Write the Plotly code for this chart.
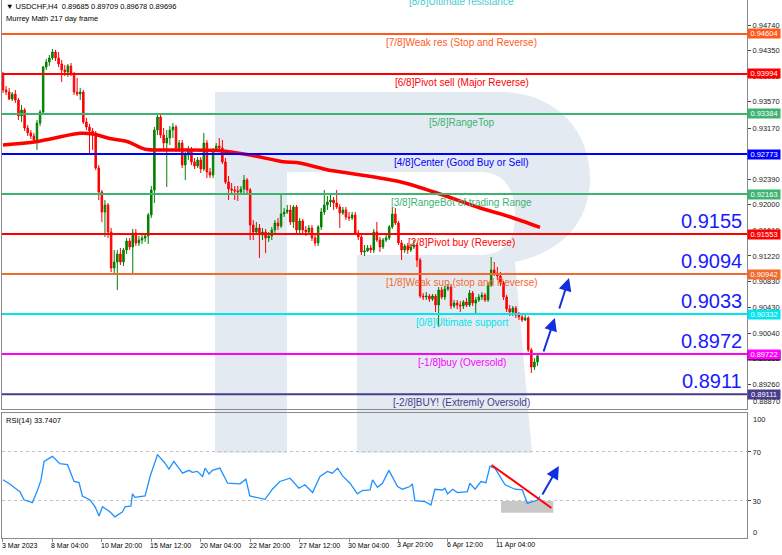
import plotly.graph_objects as go

# ---------------- DATA ----------------
tick_idx = [0, 16, 32, 48, 64, 80, 96, 112, 128, 144, 160]
tick_text = ["3 Mar 2023", "8 Mar 04:00", "10 Mar 20:00", "15 Mar 12:00", "20 Mar 04:00",
             "22 Mar 20:00", "27 Mar 12:00", "30 Mar 04:00", "3 Apr 20:00", "6 Apr 12:00", "11 Apr 04:00"]

opens = [.93978,.93750,.93719,.93612,.93689,.93597,.93353,.93445,.93170,.93094,
         .93048,.92987,.93246,.93414,.94100,.94177,.94238,.94329,.94238,.94146,
         .94055,.94024,.94116,.93994,.93719,.93689,.93719,.93261,.93185,.93124,
         .93094,.92560,.92194,.91889,.91996,.91584,.91035,.91127,.91249,.91127,
         .91310,.91447,.91356,.91569,.91417,.91462,.91493,.91523,.91844,.92225,
         .93139,.93338,.93063,.92941,.93017,.93139,.93185,.92865,.92941,.92606,
         .92758,.92835,.92652,.92591,.92682,.92545,.92941,.92499,.92453,.92835,
         .92895,.92865,.92652,.92347,.92240,.92225,.92210,.92194,.92240,.92377,
         .92225,.91691,.91584,.91645,.91539,.91584,.91493,.91523,.91615,.91722,
         .91676,.91859,.91889,.91920,.91737,.91966,.91615,.91752,.91615,.91584,
         .91645,.91493,.91417,.91661,.91889,.91996,.92042,.92072,.92027,.91966,
         .91874,.91920,.91813,.91798,.91844,.91569,.91508,.91279,.91295,.91340,
         .91310,.91584,.91462,.91356,.91462,.91493,.91661,.91859,.91722,.91417,
         .91310,.91371,.91310,.91356,.91386,.91157,.90608,.90593,.90608,.90562,
         .90608,.90471,.90700,.90593,.90715,.90745,.90456,.90501,.90471,.90456,
         .90517,.90471,.90654,.90501,.90547,.90593,.90624,.90547,.90776,.91005,
         .90959,.90913,.90807,.90593,.90410,.90364,.90425,.90318,.90288,.90242,
         .90273,.89785,.89525,.89602]
closes = [.93750,.93719,.93612,.93689,.93597,.93353,.93445,.93170,.93094,.93048,
          .92987,.93246,.93414,.94100,.94177,.94238,.94329,.94238,.94146,.94055,
          .94024,.94116,.93994,.93719,.93689,.93719,.93261,.93185,.93124,.93094,
          .92560,.92194,.91889,.91996,.91584,.91035,.91127,.91249,.91127,.91310,
          .91447,.91356,.91569,.91417,.91462,.91493,.91523,.91844,.92225,.93139,
          .93338,.93063,.92941,.93017,.93139,.93185,.92865,.92941,.92606,.92758,
          .92835,.92652,.92591,.92682,.92545,.92941,.92499,.92453,.92835,.92895,
          .92865,.92652,.92347,.92240,.92225,.92210,.92194,.92240,.92377,.92225,
          .91691,.91584,.91645,.91539,.91584,.91493,.91523,.91615,.91722,.91676,
          .91859,.91889,.91920,.91737,.91966,.91615,.91752,.91615,.91584,.91645,
          .91493,.91417,.91661,.91889,.91996,.92042,.92072,.92027,.91966,.91874,
          .91920,.91813,.91798,.91844,.91569,.91508,.91279,.91295,.91340,.91310,
          .91584,.91462,.91356,.91462,.91493,.91661,.91859,.91722,.91417,.91310,
          .91371,.91310,.91356,.91386,.91157,.90608,.90593,.90608,.90562,.90608,
          .90471,.90700,.90593,.90715,.90745,.90456,.90501,.90471,.90456,.90517,
          .90471,.90654,.90501,.90547,.90593,.90624,.90547,.90776,.91005,.90959,
          .90913,.90807,.90593,.90410,.90364,.90425,.90318,.90288,.90242,.90273,
          .89785,.89525,.89602,.89696]
highs = [.94024,.93811,.93780,.93719,.93750,.93628,.93521,.93475,.93216,.93139,
         .93094,.93292,.93445,.94116,.94222,.94283,.94375,.94360,.94329,.94207,
         .94131,.94146,.94161,.94024,.93933,.93780,.93750,.93323,.93231,.93170,
         .93124,.92606,.92225,.92072,.92027,.91645,.91310,.91310,.91340,.91340,
         .91493,.91493,.91630,.91630,.91523,.91539,.91569,.91874,.92286,.93185,
         .93384,.93399,.93170,.93139,.93200,.93246,.93216,.92987,.92987,.92804,
         .92895,.92880,.92713,.92728,.92728,.93094,.92987,.92560,.92865,.92941,
         .93017,.92987,.92713,.92438,.92332,.92286,.92286,.92286,.92453,.92408,
         .92255,.91767,.91737,.91706,.91645,.91630,.91584,.91661,.91767,.91798,
         .92179,.91950,.91996,.91996,.91996,.91996,.91798,.91783,.91676,.91691,
         .91691,.91539,.91691,.91950,.92225,.92133,.92149,.92118,.92225,.92012,
         .91966,.91966,.91889,.91889,.91889,.91615,.91554,.91386,.91386,.91386,
         .91630,.91737,.91508,.91493,.91539,.91691,.91950,.91950,.91752,.91462,
         .91401,.91417,.91401,.91462,.91417,.91188,.90654,.90669,.90639,.90639,
         .90639,.90745,.90745,.90761,.90791,.90791,.90547,.90547,.90532,.90547,
         .90578,.90700,.90685,.90593,.90639,.90669,.90654,.90822,.91203,.91127,
         .91051,.90974,.90837,.90624,.90471,.90456,.90456,.90364,.90334,.90318,
         .90303,.89815,.89662,.89709]
lows = [.93704,.93673,.93597,.93582,.93551,.93292,.93261,.93124,.93048,.93002,
        .92941,.92835,.93200,.93384,.94055,.94116,.94207,.94192,.94100,.93872,
        .93963,.93948,.93963,.93673,.93658,.93597,.93231,.93139,.92789,.92835,
        .92530,.92072,.91737,.91508,.91493,.90974,.90944,.90700,.91081,.91066,
        .91249,.91310,.90929,.91371,.91371,.91401,.91432,.91401,.91798,.92027,
        .93063,.93017,.92835,.92271,.92911,.93017,.92804,.92804,.92560,.92377,
        .92682,.92606,.92545,.92560,.92484,.92514,.92408,.92408,.92408,.92804,
        .92835,.92621,.92316,.92072,.92149,.92072,.92057,.92164,.92179,.92149,
        .91462,.91462,.91539,.91188,.91462,.91264,.91432,.91462,.91569,.91615,
        .91645,.91813,.91859,.91691,.91645,.91569,.91569,.91569,.91523,.91539,
        .91447,.91371,.91371,.91615,.91844,.91920,.91966,.91920,.91935,.91645,
        .91844,.91767,.91752,.91767,.91539,.91462,.91234,.91218,.91279,.91264,
        .91264,.91432,.91279,.91325,.91432,.91462,.91630,.91691,.91386,.91157,
        .91264,.91249,.91279,.91325,.91051,.90578,.90547,.90547,.90517,.90532,
        .90364,.90135,.90562,.90547,.90685,.90410,.90425,.90410,.90364,.90410,
        .90440,.90440,.90456,.90349,.90517,.90547,.90517,.90517,.90745,.90913,
        .90852,.90761,.90547,.90364,.90303,.90303,.90273,.90242,.90212,.90227,
        .89754,.89434,.89480,.89541]

ma_idx = [0, 10.7, 24.9, 29.1, 34.6, 40.4, 46, 55.7, 70.2, 80, 90.6, 96, 105.2, 109, 128.5, 141.4, 154.4, 164, 173.8]
ma_val = [.92911, .92961, .93089, .93079, .93010, .92961, .92845, .92835, .92824, .92758, .92656, .92636,
          .92530, .92504, .92351, .92164, .91950, .91817, .91656]

rsi_idx = [0, 2.3, 4.7, 5.5, 6.8, 9.5, 11.2, 12.3, 13.3, 16, 18.4, 20.9, 23, 24.6, 25.7, 28.2, 29.8, 31.1,
           32.2, 34.6, 36.2, 38.7, 39.5, 41.4, 41.9, 42.7, 46, 47.6, 50, 52.4, 53.7, 55.3, 58.1, 60.2, 61.3,
           62.9, 64.6, 65.4, 66.7, 67.8, 70.2, 72.7, 76.7, 78.6, 79.9, 82.4, 84.8, 87.2, 89.6, 92.9, 94.5,
           95.8, 97.7, 100.2, 102.6, 105, 106.6, 108.3, 109.9, 112.3, 114.7, 116.3, 118.8, 119.6, 121.2,
           122.8, 124.9, 127.7, 129.3, 131.7, 132.5, 133.3, 136.6, 138.5, 139.8, 142.2, 143, 143.9, 145.5,
           147.1, 150.3, 151.1, 152.8, 154.7, 156.3, 157.6, 159.2, 162.5, 165.7, 168.1, 169.7, 171.4, 173, 173.8]
rsi_val = [47.3, 43.7, 39, 37.6, 31, 28.6, 39, 47, 62.3, 66.4, 60.4, 59.6, 45.9, 45, 34.1, 30.8, 25.3, 17.7,
           25.3, 21.2, 17.1, 21.2, 25.3, 25.9, 35.8, 33, 34.1, 50, 67.8, 61, 56, 62.3, 52.7, 55, 53.4,
           54.2, 50, 56.8, 52, 55, 56.8, 44.5, 44, 47.8, 34.1, 33, 31.4, 39.6, 45.9, 48.6, 44.5,
           40.4, 43.2, 36.9, 50, 54.1, 52.7, 56.8, 50.5, 44.5, 35.8, 38.5, 39, 47.3, 41.2,
           44.5, 55, 41.8, 39.6, 41.8, 44, 30.3, 29.5, 26.7, 39.6, 39, 40.4, 35.8, 39.6,
           36.9, 37.7, 44.5, 39.6, 45.9, 45, 58.2, 56.8, 43.2, 39.6, 39, 28.1, 29.5, 30.8, 33.74]

lvl_vals = [0.95214, 0.94604, 0.93994, 0.93384, 0.92773, 0.92163, 0.91553, 0.90942, 0.90332, 0.89722, 0.89111]
lvl_names = ["[8/8]Ultimate resistance", "[7/8]Weak res (Stop and Reverse)", "[6/8]Pivot sell (Major Reverse)",
             "[5/8]RangeTop", "[4/8]Center (Good Buy or Sell)", "[3/8]RangeBot of trading Range",
             "[2/8]Pivot buy (Reverse)", "[1/8]Weak sup (stop and Reverse)", "[0/8]Ultimate support",
             "[-1/8]buy (Oversold)", "[-2/8]BUY! (Extremly Oversold)"]
lvl_colors = ["#46c9d2", "#ff5a1e", "#ff0000", "#3cb371", "#0000ff", "#3cb371", "#ff0000", "#f26a2e",
              "#00e5ee", "#ff00ff", "#483d8b"]

big_labels = ["0.9155", "0.9094", "0.9033", "0.8972", "0.8911"]
big_levels = [0.91553, 0.90942, 0.90332, 0.89722, 0.89111]

price_ticks = [0.94740, 0.94350, 0.93960, 0.93570, 0.93170, 0.92780, 0.92390, 0.92000, 0.91610,
               0.91220, 0.90830, 0.90430, 0.90040, 0.89650, 0.89260]

last_price = 0.89696
header = "\u25BC USDCHF,H4  0.89685 0.89709 0.89678 0.89696"
rsi_label = "RSI(14) 33.7407"

# markup drawn on the chart (index, value)
rsi_trend = [(158.1, 59.4), (177.5, 24.3)]
rsi_box = [(161.2, 20.4), (178.1, 30.0)]
rsi_arrow = [(174.3, 34.0), (179.9, 58.6)]
price_arrows = [[(174.8, 0.89739), (178.6, 0.90273)], [(179.9, 0.90395), (183.2, 0.90883)]]

# ---------------- GEOMETRY HELPERS ----------------
PL, PR, PT, PB = 2, 747, 0, 538          # plot area in pixels
MAIN_BOTTOM, RSI_TOP = 409, 413


def X(p):
    return (p - PL) / float(PR - PL)


def Y(p):
    return (PB - p) / float(PB - PT)


XR = [-0.32, 240.8]
YR = [0.88885, 0.95122]
RR = [-0.2, 101.8]

fig = go.Figure()

fig.add_trace(go.Candlestick(
    x=list(range(len(closes))), open=opens, high=highs, low=lows, close=closes,
    increasing=dict(line=dict(color="#008000", width=1), fillcolor="#008000"),
    decreasing=dict(line=dict(color="#ff0000", width=1), fillcolor="#ff0000"),
    whiskerwidth=0, xaxis="x", yaxis="y", showlegend=False, hoverinfo="skip"))

fig.add_trace(go.Scatter(x=ma_idx, y=ma_val, mode="lines",
                         line=dict(color="#ff0000", width=3.5, shape="spline", smoothing=0.8),
                         xaxis="x", yaxis="y", showlegend=False, hoverinfo="skip"))

fig.add_trace(go.Scatter(x=rsi_idx, y=rsi_val, mode="lines",
                         line=dict(color="#1e90ff", width=1.3),
                         xaxis="x2", yaxis="y2", showlegend=False, hoverinfo="skip"))

shapes = []


def path(pts):
    s = ""
    for cmd, ps in pts:
        s += cmd
        s += " ".join("%.5f,%.5f" % (X(a), Y(b)) for a, b in ps)
        s += " "
    return s.strip()


# watermark "R"
R = [("M", [(215, 92)]), ("L", [(500, 92)]),
     ("C", [(555, 92), (590, 130), (590, 178)]),
     ("C", [(590, 222), (562, 252), (515, 262)]),
     ("L", [(532, 453)]), ("L", [(357, 453)]), ("L", [(357, 255)]), ("L", [(480, 255)]),
     ("C", [(505, 255), (515, 240), (515, 215)]),
     ("C", [(515, 190), (505, 172), (480, 172)]),
     ("L", [(287, 172)]), ("L", [(287, 453)]), ("L", [(215, 453)]), ("Z", [])]
shapes.append(dict(type="path", xref="paper", yref="paper", path=path(R),
                   fillcolor="#e4eaf2", line=dict(width=0), layer="below"))

# RSI markup
shapes.append(dict(type="rect", xref="x2", yref="y2", x0=rsi_box[0][0], x1=rsi_box[1][0],
                   y0=rsi_box[0][1], y1=rsi_box[1][1], fillcolor="#c8c8c8",
                   line=dict(width=0), layer="below"))
shapes.append(dict(type="line", xref="x2", yref="y2", x0=rsi_trend[0][0], y0=rsi_trend[0][1],
                   x1=rsi_trend[1][0], y1=rsi_trend[1][1], line=dict(color="#ff0000", width=2)))

# Murray lines
for v, c in zip(lvl_vals, lvl_colors):
    shapes.append(dict(type="line", xref="x domain", yref="y", x0=0, x1=1, y0=v, y1=v,
                       line=dict(color=c, width=2), layer="above"))

annotations = []
FONT = "Liberation Sans, Arial"

# Murray labels
for i, (v, n, c) in enumerate(zip(lvl_vals, lvl_names, lvl_colors)):
    if i == 0:
        annotations.append(dict(x=148.5, y=1, xref="x", yref="paper", text=n, showarrow=False,
                                xanchor="center", yanchor="middle", yshift=-1,
                                font=dict(size=10, color=c, family=FONT)))
    else:
        annotations.append(dict(x=148.5, y=v, xref="x", yref="y", text=n, showarrow=False,
                                xanchor="center", yanchor="top", yshift=-1,
                                font=dict(size=10, color=c, family=FONT)))

# big blue labels
for t, v in zip(big_labels, big_levels):
    annotations.append(dict(x=X(744), y=v, xref="paper", yref="y", text=t, showarrow=False,
                            xanchor="right", yanchor="bottom", yshift=0,
                            font=dict(size=20, color="#1a1aff", family=FONT)))

# current price marker (black) then level price boxes
annotations.append(dict(x=X(763.5), y=last_price, xref="paper", yref="y", text="0.89696",
                        showarrow=False, bgcolor="#000000", width=32, height=9, borderpad=0,
                        xanchor="center", yanchor="middle",
                        font=dict(size=7.5, color="white", family=FONT)))
for v, c in zip(lvl_vals[1:], lvl_colors[1:]):
    annotations.append(dict(x=X(763.5), y=v, xref="paper", yref="y", text="%.5f" % v,
                            showarrow=False, bgcolor=c, width=32, height=9, borderpad=0,
                            xanchor="center", yanchor="middle",
                            font=dict(size=7.5, color="white", family=FONT)))

# bottom price label squeezed inside pane
annotations.append(dict(x=X(751), y=Y(401), xref="paper", yref="paper", text="0.88870",
                        showarrow=False, xanchor="left", yanchor="middle",
                        font=dict(size=7.5, color="#222", family=FONT)))

# RSI right labels 100 / 0
annotations.append(dict(x=X(751), y=Y(419), xref="paper", yref="paper", text="100",
                        showarrow=False, xanchor="left", yanchor="middle",
                        font=dict(size=7.5, color="#222", family=FONT)))
annotations.append(dict(x=X(751), y=Y(532), xref="paper", yref="paper", text="0",
                        showarrow=False, xanchor="left", yanchor="middle",
                        font=dict(size=7.5, color="#222", family=FONT)))

# header texts
annotations.append(dict(x=X(4), y=Y(7), xref="paper", yref="paper", text=header, showarrow=False,
                        xanchor="left", yanchor="middle",
                        font=dict(size=7.5, color="#000", family=FONT)))
annotations.append(dict(x=X(4), y=Y(18), xref="paper", yref="paper", text="Murrey Math 217 day frame",
                        showarrow=False, xanchor="left", yanchor="middle",
                        font=dict(size=7.5, color="#000", family=FONT)))
annotations.append(dict(x=X(4), y=Y(420), xref="paper", yref="paper", text=rsi_label,
                        showarrow=False, xanchor="left", yanchor="middle",
                        font=dict(size=7.5, color="#000", family=FONT)))

# date labels
for ti, tt in zip(tick_idx, tick_text):
    annotations.append(dict(x=ti, y=Y(545), xref="x", yref="paper", text=tt, showarrow=False,
                            xanchor="left", yanchor="middle", xshift=-3,
                            font=dict(size=7, color="#000", family=FONT)))

# arrows
for (t0, t1) in price_arrows:
    annotations.append(dict(x=t1[0], y=t1[1], ax=t0[0], ay=t0[1], xref="x", yref="y",
                            axref="x", ayref="y", showarrow=True, arrowhead=2, arrowsize=1.3,
                            arrowwidth=2, arrowcolor="#1030e0", text=""))
annotations.append(dict(x=rsi_arrow[1][0], y=rsi_arrow[1][1], ax=rsi_arrow[0][0], ay=rsi_arrow[0][1],
                        xref="x2", yref="y2", axref="x2", ayref="y2", showarrow=True, arrowhead=2,
                        arrowsize=1.3, arrowwidth=2, arrowcolor="#1030e0", text=""))

axis_line = "#8a8a8a"
fig.update_layout(
    width=782, height=555, margin=dict(l=PL, r=782 - PR, t=PT, b=555 - PB, autoexpand=False),
    paper_bgcolor="white", plot_bgcolor="white", showlegend=False,
    font=dict(family=FONT, size=8, color="#222"),
    xaxis=dict(domain=[0, 1], range=XR, anchor="y", showticklabels=False, ticks="",
               showgrid=False, zeroline=False, showline=True, linecolor=axis_line, linewidth=1,
               mirror=True, rangeslider=dict(visible=False), fixedrange=True),
    xaxis2=dict(domain=[0, 1], range=XR, anchor="y2", matches="x", tickvals=tick_idx, ticks="outside",
                ticklen=3, tickcolor=axis_line, showticklabels=False, showgrid=False, zeroline=False,
                showline=True, linecolor=axis_line, linewidth=1, mirror=True),
    yaxis=dict(domain=[Y(MAIN_BOTTOM), 1], range=YR, side="right", tickvals=price_ticks,
               ticktext=["%.5f" % t for t in price_ticks], ticks="outside", ticklen=3,
               tickcolor="#444", tickfont=dict(size=7.5, color="#222"), showgrid=False,
               zeroline=False, showline=True, linecolor=axis_line, linewidth=1, mirror=True),
    yaxis2=dict(domain=[0, Y(RSI_TOP)], range=RR, side="right", tickvals=[70, 30],
                ticktext=["70", "30"], ticks="outside", ticklen=3, tickcolor="#444",
                tickfont=dict(size=7.5, color="#222"), showgrid=True, gridcolor="#c4c4c4",
                griddash="dot", gridwidth=1, zeroline=False, showline=True, linecolor=axis_line,
                linewidth=1, mirror=True),
    shapes=shapes, annotations=annotations,
)

fig.write_html("out.html", config={"displayModeBar": False},
               post_script="document.body.style.margin='0';document.body.style.padding='0';")
